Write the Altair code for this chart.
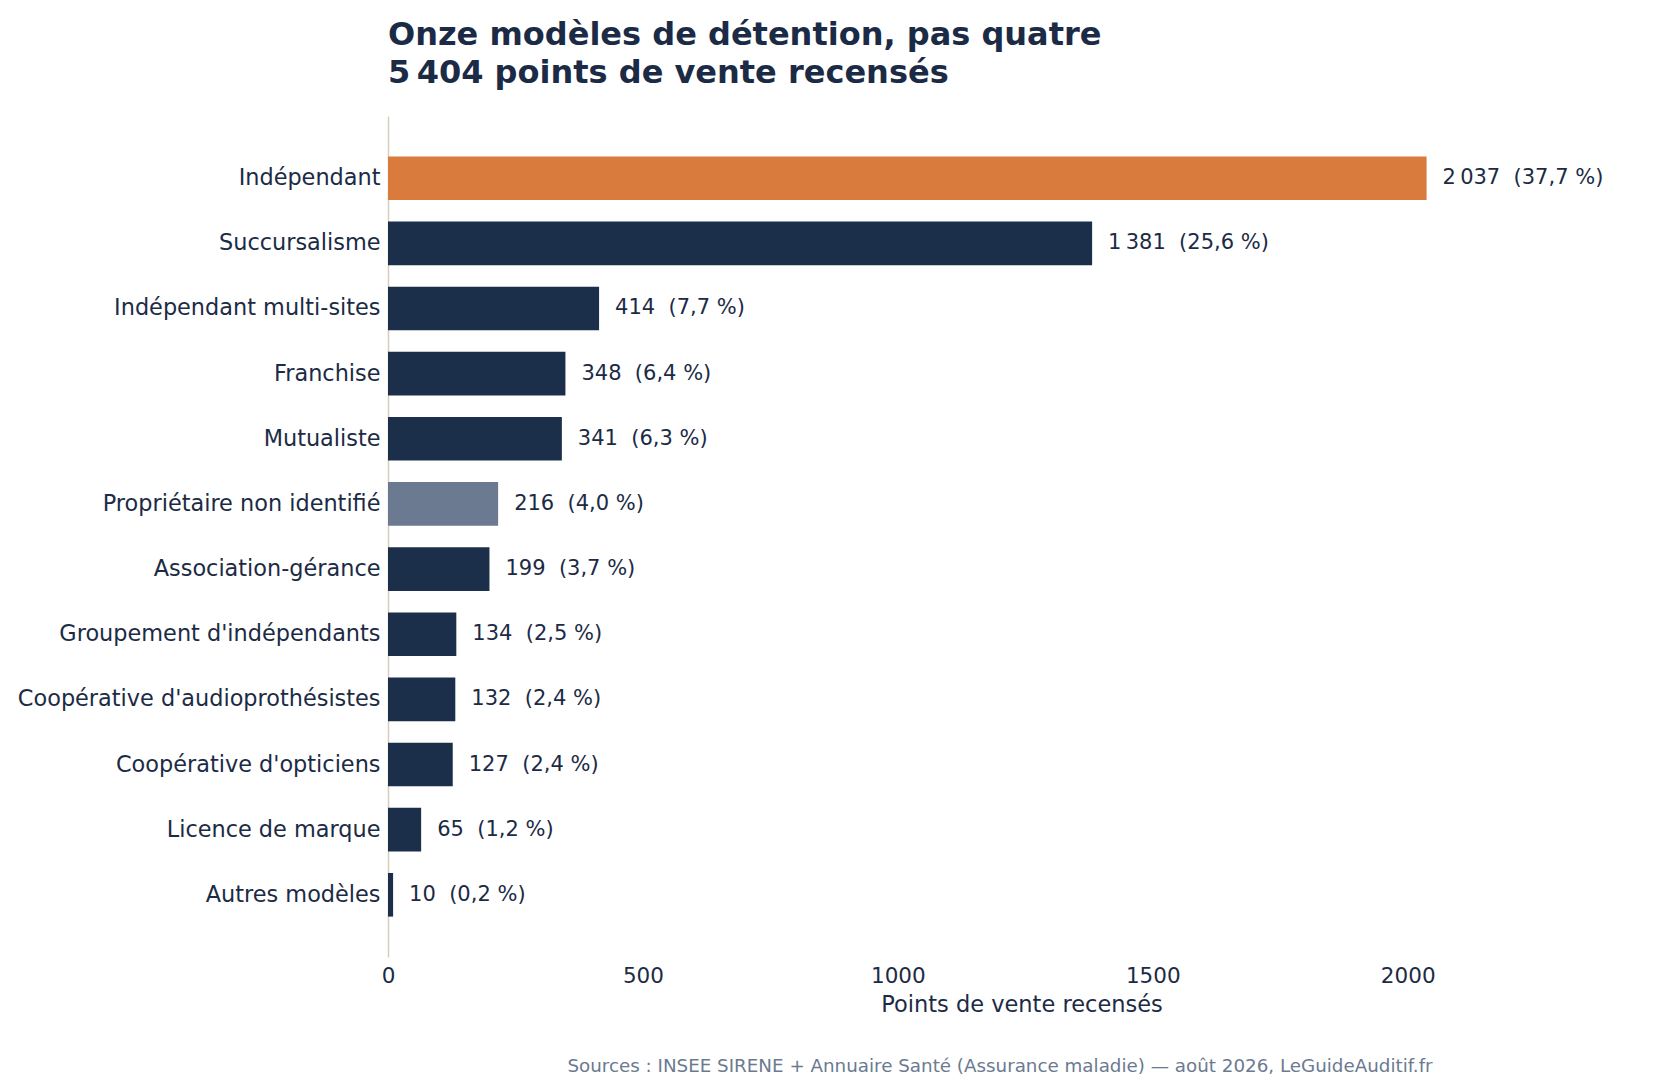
import altair as alt
import pandas as pd

categories = [
    "Indépendant", "Succursalisme", "Indépendant multi-sites", "Franchise",
    "Mutualiste", "Propriétaire non identifié", "Association-gérance",
    "Groupement d'indépendants", "Coopérative d'audioprothésistes",
    "Coopérative d'opticiens", "Licence de marque", "Autres modèles",
]
values = [2037, 1381, 414, 348, 341, 216, 199, 134, 132, 127, 65, 10]
shares = [37.7, 25.6, 7.7, 6.4, 6.3, 4.0, 3.7, 2.5, 2.4, 2.4, 1.2, 0.2]
groups = ["focus", "base", "base", "base", "base", "unknown",
          "base", "base", "base", "base", "base", "base"]
x_ticks = [0, 500, 1000, 1500, 2000]

title_lines = ["Onze modèles de détention, pas quatre", "5\u202f404 points de vente recensés"]
x_title = "Points de vente recensés"
source = "Sources : INSEE SIRENE + Annuaire Santé (Assurance maladie) — août 2026, LeGuideAuditif.fr"

def fmt_num(v):
    return f"{v:,}".replace(",", "\u202f")

labels = [f"{fmt_num(v)} \u00a0({f'{p:.1f}'.replace('.', ',')}\u00a0%)" for v, p in zip(values, shares)]

df = pd.DataFrame({"cat": categories, "val": values, "grp": groups, "label": labels})

NAVY = "#1c2f4a"
TEXT = "#1c2b45"
FONT = "DejaVu Sans"
W, H = 1267, 841

base = alt.Chart(df).encode(
    y=alt.Y("cat:N", sort=categories, title=None,
            scale=alt.Scale(paddingInner=0.33, paddingOuter=0.62),
            axis=alt.Axis(labelFontSize=22.4, labelColor=TEXT, labelFont=FONT, labelPadding=8,
                          ticks=False, domainColor="#d6cdbd", domainWidth=1.5, labelLimit=600))
)

bars = base.mark_bar().encode(
    x=alt.X("val:Q", scale=alt.Scale(domain=[0, 2485], nice=False),
            axis=alt.Axis(values=x_ticks, title=x_title, titleFontSize=22.5, titleFont=FONT,
                          titleColor=TEXT, titleFontWeight="normal", titlePadding=7,
                          labelFontSize=21.5, labelFont=FONT, labelColor=TEXT, labelPadding=8,
                          labelFlush=False, ticks=False, domain=False, grid=False, format="d")),
    color=alt.Color("grp:N", legend=None,
                    scale=alt.Scale(domain=["focus", "base", "unknown"],
                                    range=["#d97b3c", NAVY, "#6b7a90"])),
)

text = base.mark_text(align="left", baseline="middle", dx=16, fontSize=21, font=FONT, color=TEXT).encode(
    x="val:Q", text="label:N"
)

footer = alt.Chart(pd.DataFrame({"t": [source]})).mark_text(
    fontSize=18.3, font=FONT, color="#6b7a90", align="center", baseline="middle"
).encode(x=alt.value(612), y=alt.value(H + 110), text="t:N")

chart = alt.layer(bars, text, footer).properties(
    width=W, height=H,
    padding={"left": 9, "top": 10, "right": 5, "bottom": 5},
    title=alt.TitleParams(title_lines, fontSize=32, font=FONT, fontWeight="bold", color=TEXT,
                          anchor="start", frame="group", offset=26, lineHeight=38.5),
).configure_view(stroke=None).configure_axis(grid=False)

chart.save("out.html", embed_options={"renderer": "svg", "actions": False})
